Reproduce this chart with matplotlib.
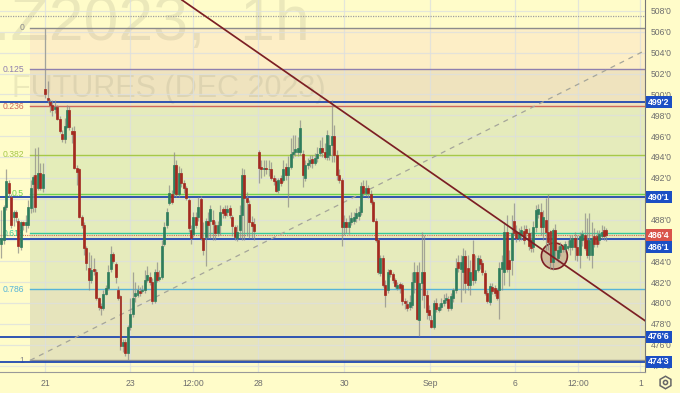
"""
plot.py
-------

Wheat futures 1h candle chart with fib retracement and trend lines.
"""

import matplotlib
matplotlib.use("Agg")

import matplotlib.pyplot as plt
import numpy as np
from matplotlib.lines import Line2D
from matplotlib.patches import Ellipse, Rectangle

nan = float("nan")

opens = [
    485.7, 486.0, 489.2, 491.5, 490.2, 488.2, 488.7, 487.9, 485.4, 487.8,
    487.5, 487.5, 489.1, 491.4, 492.3, 491.0, 492.5, 491.0, 500.5, 499.7,
    499.3, 499.0, 498.6, 498.8, 497.6, 496.2, 495.7, 496.9, 498.5, 496.5,
    496.5, 492.9, 492.8, 488.2, 487.5, 485.3, 483.4, 482.2, 483.3, 483.0,
    480.5, 479.7, 479.5, 480.9, 481.4, 483.3, 484.7, 483.7, 481.2, 480.7,
    475.9, 476.3, 475.2, 477.7, 478.9, 480.7, 480.8, 481.1, 481.1, 481.2,
    482.2, 482.5, 482.0, 480.2, 483.0, 482.3, 482.5, 485.7, 487.5, 489.6,
    490.4, 490.5, 493.2, 490.4, 492.5, 491.5, 491.0, 489.9, 487.0, 486.6,
    488.2, 488.2, 490.0, 486.2, 486.3, 487.9, 487.9, 488.0, 487.5, 486.7,
    487.5, 489.0, 489.0, 488.7, 489.1, 488.2, 487.3, 486.2, 487.0, 488.4,
    492.3, 490.1, 489.5, 487.8, 487.6, nan, 494.5, 493.0, 492.8, 492.9,
    492.8, 492.8, 492.0, 491.7, 490.8, 492.0, 491.8, 493.0, 492.3, 493.0,
    494.3, 494.5, 494.5, 494.5, 494.3, 492.0, 493.2, 493.4, 493.8, 493.4,
    493.9, 494.4, 494.9, 494.5, 494.0, 494.2, 495.1, 496.0, 494.2, 492.3,
    491.8, 487.3, 487.8, 487.3, 487.8, 487.9, 488.1, 488.3, 488.7, 491.2,
    490.5, 491.0, 490.4, 489.7, 487.9, 486.0, 482.9, 484.3, 481.7, 481.2,
    483.2, 482.8, 482.2, 481.4, 481.8, 481.7, 480.2, 479.9, 479.6, 479.8,
    482.0, 483.0, 478.4, 481.9, 483.0, 480.8, 479.3, 478.4, 477.7, 480.0,
    479.3, 479.6, 480.0, 480.3, 480.4, 479.5, 480.5, 481.2, 483.9, 483.3,
    483.0, 484.5, 483.4, 481.7, 484.7, 482.2, 483.2, 484.2, 483.8, 482.9,
    481.0, 480.1, 481.5, 481.4, 481.2, 481.2, 483.3, 483.0, 486.8, 484.1,
    484.1, 487.9, 486.8, 486.2, 486.5, 486.9, 487.1, 486.7, 486.0, 485.4,
    487.3, 488.5, 488.7, 487.3, 488.0, 486.8, 486.9, 483.9, 487.0, 484.3,
    484.9, 485.5, 485.2, 485.3, 485.4, 485.4, 486.2, 485.4, 484.6, 486.0,
    486.5, 486.0, 484.6, 484.6, 486.4, 486.4, 486.0, 486.4, 487.0, 487.0,
]
closes = [
    486.2, 489.2, 491.7, 490.5, 487.5, 488.7, 488.2, 485.5, 487.8, 487.5,
    487.8, 489.2, 491.0, 492.1, 489.2, 492.5, 491.0, 492.4, 500.0, 499.5,
    499.0, 498.5, 498.8, 497.6, 496.5, 495.7, 497.0, 498.5, 496.9, 496.2,
    492.9, 492.6, 488.2, 487.5, 485.3, 483.8, 482.2, 483.2, 483.1, 480.5,
    479.6, 479.5, 480.9, 481.4, 483.0, 484.7, 484.0, 482.5, 480.5, 475.9,
    476.3, 475.2, 477.7, 478.9, 480.5, 481.0, 481.2, 481.0, 481.2, 482.2,
    482.7, 482.0, 480.2, 483.0, 482.2, 482.5, 485.5, 487.3, 488.7, 490.5,
    489.7, 493.2, 490.4, 492.5, 491.5, 491.0, 490.1, 487.2, 486.2, 488.2,
    487.5, 489.2, 486.2, 485.1, 487.9, 487.5, 489.0, 487.6, 486.7, 487.5,
    488.7, 488.6, 488.4, 489.0, 488.4, 487.4, 486.3, 486.8, 488.4, 492.3,
    490.1, 489.7, 487.8, 487.4, 486.9, nan, 492.9, 492.8, 492.9, 492.8,
    492.8, 492.0, 491.7, 490.7, 491.8, 491.5, 492.8, 492.3, 493.0, 494.3,
    494.5, 494.8, 494.9, 496.8, 492.3, 493.2, 493.4, 493.7, 493.4, 493.9,
    494.3, 494.9, 494.5, 494.0, 496.1, 495.1, 496.0, 494.2, 492.3, 491.8,
    487.3, 487.8, 487.3, 487.8, 488.1, 488.2, 488.6, 488.7, 491.2, 490.5,
    491.0, 490.5, 489.7, 487.9, 486.0, 483.0, 484.3, 481.7, 480.8, 483.0,
    482.8, 482.2, 481.6, 481.7, 481.4, 480.2, 480.0, 479.5, 480.1, 482.0,
    483.0, 478.5, 481.9, 483.0, 480.8, 479.1, 478.8, 477.7, 480.0, 479.4,
    479.6, 480.0, 480.3, 480.5, 479.5, 480.7, 481.2, 483.4, 483.4, 483.9,
    484.5, 481.9, 481.7, 483.0, 482.2, 483.2, 484.3, 483.7, 483.0, 481.0,
    480.2, 481.6, 481.1, 481.0, 480.5, 483.4, 483.9, 486.8, 483.3, 483.3,
    486.7, 486.7, 486.2, 486.8, 487.0, 486.0, 486.7, 485.5, 485.3, 487.3,
    488.9, 489.0, 487.3, 488.2, 486.8, 485.8, 483.9, 487.0, 485.1, 485.1,
    485.5, 485.2, 485.7, 485.5, 486.0, 486.2, 485.4, 484.6, 486.4, 486.6,
    485.3, 484.6, 486.0, 486.2, 485.7, 485.7, 486.6, 486.8, 486.4, 486.5,
]
highs = [
    488.9, 489.4, 492.8, 491.8, 490.4, 488.9, 488.9, 488.1, 487.9, 487.9,
    488.4, 489.9, 491.8, 492.3, 494.9, 495.0, 493.4, 493.4, 506.4, 501.3,
    499.6, 499.5, 499.5, 499.0, 497.9, 496.6, 497.7, 499.0, 498.9, 496.9,
    497.0, 493.2, 492.9, 488.4, 487.8, 485.5, 484.9, 484.6, 484.3, 483.3,
    480.6, 480.0, 481.2, 481.7, 483.6, 485.5, 484.9, 483.9, 481.6, 480.8,
    476.5, 476.5, 477.9, 480.5, 483.0, 482.0, 481.7, 481.5, 481.7, 483.2,
    483.5, 483.0, 482.4, 483.3, 483.9, 483.2, 486.0, 487.8, 489.1, 491.3,
    490.8, 494.5, 493.7, 493.1, 492.9, 491.8, 491.2, 490.1, 487.5, 488.7,
    488.7, 490.2, 490.3, 487.8, 488.1, 488.7, 489.4, 488.9, 487.9, 487.9,
    489.4, 489.2, 489.4, 489.4, 489.4, 488.4, 487.5, 487.5, 489.4, 492.9,
    492.8, 490.6, 489.9, 488.3, 488.1, nan, 494.7, 493.7, 493.7, 493.7,
    493.7, 493.5, 492.3, 492.0, 492.0, 492.3, 493.7, 493.4, 494.1, 495.8,
    496.1, 496.1, 495.9, 497.5, 494.7, 493.7, 493.9, 494.2, 494.2, 494.4,
    495.0, 495.6, 495.9, 495.3, 496.6, 496.1, 499.5, 497.1, 494.7, 492.8,
    492.0, 488.4, 488.1, 488.4, 488.7, 488.7, 489.1, 489.3, 491.6, 491.8,
    491.8, 491.3, 490.8, 489.9, 488.1, 486.2, 484.6, 484.6, 482.2, 483.3,
    483.3, 483.0, 482.4, 482.0, 482.0, 481.9, 480.5, 480.3, 480.8, 483.0,
    483.9, 483.6, 483.9, 486.8, 486.5, 481.2, 479.8, 478.8, 480.3, 480.5,
    480.0, 480.5, 480.9, 481.0, 480.7, 481.0, 481.4, 484.3, 484.6, 484.6,
    485.3, 485.1, 484.6, 484.1, 486.0, 484.6, 484.6, 484.6, 484.1, 483.2,
    481.2, 481.9, 481.9, 481.7, 481.4, 483.9, 484.6, 487.8, 488.4, 485.1,
    488.4, 489.6, 487.5, 487.2, 487.4, 487.5, 487.5, 487.2, 486.8, 487.9,
    489.4, 489.5, 489.6, 488.9, 490.1, 490.4, 487.0, 487.2, 487.6, 485.5,
    485.8, 485.7, 485.9, 486.0, 486.5, 486.5, 486.8, 486.5, 486.8, 487.0,
    488.6, 488.1, 488.6, 487.8, 487.2, 487.0, 487.0, 487.5, 487.4, 487.2,
]
lows = [
    484.3, 485.7, 488.9, 490.2, 487.2, 487.4, 487.8, 484.8, 485.1, 487.0,
    486.8, 487.2, 488.6, 488.7, 488.7, 490.8, 490.8, 490.6, 499.7, 499.2,
    498.3, 497.9, 498.2, 497.5, 496.3, 495.4, 495.3, 496.8, 496.6, 495.3,
    492.8, 491.3, 488.1, 487.2, 484.6, 483.2, 481.2, 481.9, 482.7, 480.3,
    479.3, 478.8, 479.3, 480.8, 481.2, 483.0, 483.8, 481.9, 480.3, 475.5,
    475.3, 474.9, 474.5, 477.4, 478.7, 480.1, 480.6, 480.7, 481.0, 481.0,
    482.0, 481.7, 479.9, 480.0, 482.0, 482.1, 482.3, 485.5, 487.2, 489.4,
    489.5, 490.3, 490.2, 490.2, 491.1, 490.5, 489.9, 486.8, 485.7, 486.3,
    487.2, 487.9, 486.0, 484.6, 483.5, 486.2, 486.2, 486.0, 486.0, 486.4,
    486.5, 488.1, 488.1, 488.3, 488.1, 486.4, 486.0, 485.9, 486.2, 486.0,
    486.0, 486.4, 486.2, 486.2, 486.0, nan, 491.5, 492.0, 492.2, 492.4,
    492.2, 491.8, 491.3, 490.6, 490.5, 491.2, 491.6, 491.8, 489.2, 492.8,
    493.9, 494.1, 494.1, 494.2, 491.1, 491.7, 492.8, 493.0, 492.9, 493.2,
    493.5, 494.1, 494.0, 493.8, 493.7, 493.7, 493.5, 493.5, 491.8, 491.5,
    485.5, 486.5, 486.7, 486.6, 487.5, 487.6, 487.8, 488.0, 488.4, 490.3,
    490.3, 490.1, 489.5, 487.8, 485.8, 482.8, 482.6, 481.5, 479.6, 481.0,
    482.5, 481.9, 481.4, 481.2, 481.0, 479.8, 479.4, 479.2, 479.3, 479.5,
    481.0, 478.4, 476.8, 480.3, 479.5, 478.5, 478.4, 477.6, 477.5, 479.1,
    479.1, 479.3, 479.7, 480.0, 479.2, 479.3, 480.1, 481.0, 483.0, 480.1,
    481.2, 481.0, 481.2, 480.8, 481.7, 481.9, 483.0, 483.3, 482.7, 480.8,
    480.0, 479.8, 480.9, 480.7, 480.3, 478.5, 481.2, 481.7, 483.0, 481.6,
    482.7, 486.5, 485.8, 485.9, 486.0, 485.7, 486.3, 485.1, 484.9, 484.9,
    486.8, 488.1, 486.5, 486.0, 485.1, 485.1, 483.3, 483.2, 484.3, 483.9,
    484.5, 484.9, 484.9, 485.1, 484.6, 485.1, 484.1, 484.0, 483.4, 485.5,
    485.1, 484.3, 484.1, 483.4, 485.4, 485.4, 485.7, 486.1, 486.0, 485.9,
]

price_ticks = [508, 506, 504, 502, 500, 498, 496, 494, 492, 490, 488, 486,
               484, 482, 480, 478, 476, 474]
time_ticks = [18, 52.9, 78.9, 105.6, 141, 176.4, 211.4, 237.3, 263]
time_labels = ["21", "23", "12:00", "28", "30", "Sep", "6", "12:00", "1"]

fib_ratios = [0, 0.125, 0.236, 0.382, 0.5, 0.618, 0.786, 1]
fib_labels = ["0", "0.125", "0.236", "0.382", "0.5", "0.618", "0.786", "1"]
fib_colors = ["#8c8c8c", "#8f7fae", "#d0665a", "#a6c84a",
              "#6fd24c", "#35c99a", "#55b4d8", "#8c8c8c"]
zone_colors = ["#fdeec6", "#efe3be", "#e5ebbb", "#e4edb9",
               "#e4ecbc", "#e6ebbc", "#e6e4bc"]
fib_top = 506.4
fib_bottom = 474.5

level_prices = [499.25, 490.125, 486.125, 476.75, 474.375]
level_labels = ["499'2", "490'1", "486'1", "476'6", "474'3"]
# 486'1 is pushed down the scale so it clears the last price box
level_box_prices = [499.25, 490.125, 485.35, 476.75, 474.375]
last_price = 486.5
last_label = "486'4"

BACKGROUND = "#fffcc9"
BLUE = "#2048b0"
DARK_RED = "#7c1f24"
UP = "#2f7d5c"
DOWN = "#a32a20"


def price_box(ax, price, label, color):

    trans = ax.get_yaxis_transform()

    ax.add_patch(Rectangle((646 / 645, price - 0.58), 26 / 645, 1.16, transform=trans,
                           fc=color, ec="none", clip_on=False, zorder=5.5))
    ax.text(659 / 645, price, label, transform=trans, color="white", fontsize=6.4,
            fontweight="bold", ha="center", va="center", clip_on=False, zorder=6)


def main():

    plt.rcParams["font.family"] = ["Liberation Sans", "DejaVu Sans"]

    fig = plt.figure(figsize=(6.8, 3.93), dpi=100, facecolor=BACKGROUND)
    ax = fig.add_axes([0, 21 / 393, 645 / 680, 372 / 393], facecolor=BACKGROUND)

    ax.set_xlim(-0.6, 264.9)
    ax.set_ylim(473.38, 509.05)

    # --------------------------------------------
    # Watermark
    # --------------------------------------------

    ax.text(-7 / 645, 1 - 40 / 372, ".Z2023,  1h", transform=ax.transAxes,
            fontsize=45, color="#8a8a70", alpha=0.17, zorder=1.2)
    ax.text(12 / 645, 1 - 97 / 372, "FUTURES (DEC 2023)", transform=ax.transAxes,
            fontsize=22, color="#8a8a70", alpha=0.16, zorder=1.2)

    # --------------------------------------------
    # Fib retracement
    # --------------------------------------------

    fib_prices = [fib_top - r * (fib_top - fib_bottom) for r in fib_ratios]

    for i, color in enumerate(zone_colors):
        ax.fill_between([11.8, 264.9], fib_prices[i], fib_prices[i + 1],
                        color=color, lw=0, zorder=1)

    ax.grid(True, color="#dcdfe0", lw=0.9, alpha=0.75)
    ax.set_axisbelow("line")

    for price, label, color in zip(fib_prices, fib_labels, fib_colors):
        ax.plot([11.8, 264.9], [price, price], color=color, lw=1.0, zorder=2)
        ax.text(24 / 645, price, label, color=color, fontsize=6.2, ha="right",
                va="center", zorder=2.2, transform=ax.get_yaxis_transform())

    ax.axhline(507.5, color="#a0a0a0", lw=0.9, ls=(0, (1, 1)), zorder=2)
    ax.axhline(last_price, color="#d9694f", lw=0.8, ls=(0, (1, 1)), zorder=2)

    for price in level_prices:
        ax.axhline(price, color=BLUE, lw=1.3, zorder=2.4)

    # --------------------------------------------
    # Drawings
    # --------------------------------------------

    ax.plot([11.8, 264], [474.5, 504.1], color="#a5a59a", lw=0.9,
            ls=(0, (4, 4)), zorder=2.5)

    ax.add_patch(Ellipse((227.6, 484.5), 10.7, 2.5, fc="#8b3a3a", alpha=0.25,
                         lw=0, zorder=2.6))
    ax.add_patch(Ellipse((227.6, 484.5), 10.7, 2.5, fc="none", ec=DARK_RED,
                         lw=1.2, zorder=2.7))

    # --------------------------------------------
    # Candles
    # --------------------------------------------

    o = np.array(opens)
    c = np.array(closes)
    bar_x = np.arange(len(o))
    rising = c >= o
    colors = np.where(rising, UP, DOWN)

    ax.vlines(bar_x, lows, highs, color="#8e8e88", lw=0.9, alpha=0.75, zorder=3)
    ax.bar(bar_x, np.abs(c - o), width=0.82, bottom=np.minimum(o, c),
           color=colors, edgecolor=colors, lw=0.5, zorder=3.2)

    ax.plot([74.3, 264.9], [509.05, 478.3], color=DARK_RED, lw=1.25, zorder=3.5)

    # --------------------------------------------
    # Axes
    # --------------------------------------------

    ax.set_xticks(time_ticks)
    ax.set_xticklabels(time_labels)
    ax.yaxis.tick_right()
    ax.set_yticks(price_ticks)
    ax.set_yticklabels([f"{p}'0" for p in price_ticks])
    ax.tick_params(axis="both", length=0, labelsize=6.2, labelcolor="#6e6e6e")
    ax.tick_params(axis="x", pad=5)
    ax.tick_params(axis="y", pad=4)

    for side in ["left", "top"]:
        ax.spines[side].set_visible(False)

    ax.spines["right"].set_color("#777777")
    ax.spines["bottom"].set_color("#999999")
    ax.spines["bottom"].set_linewidth(0.8)

    for price, label in zip(level_box_prices, level_labels):
        price_box(ax, price, label, "#1c4fc4")

    price_box(ax, last_price, last_label, "#d9534a")

    # settings gear in the corner
    for marker, size in [("h", 9), ("o", 3)]:
        fig.add_artist(Line2D([665 / 680], [1 - 382 / 393], marker=marker, ms=size,
                              mfc="none", mec="#666666", mew=1.1,
                              transform=fig.transFigure))

    fig.savefig("out.png", dpi=100, facecolor=BACKGROUND)
    plt.close(fig)


if __name__ == "__main__":
    main()
